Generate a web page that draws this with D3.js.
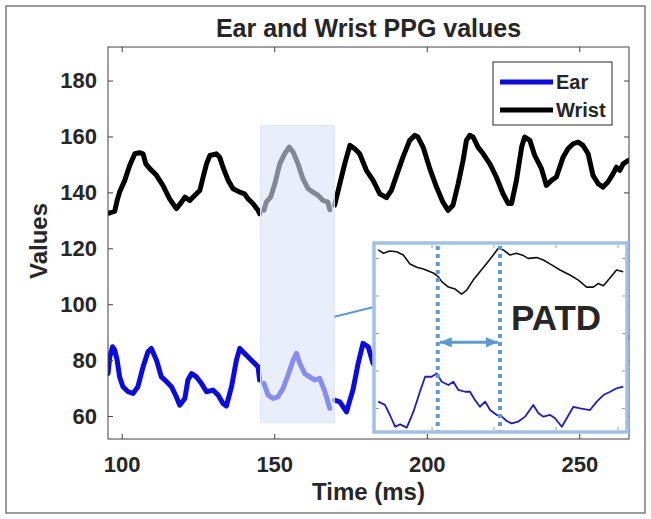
<!DOCTYPE html>
<html>
<head>
<meta charset="utf-8">
<script src="https://cdn.jsdelivr.net/npm/d3@7"></script>
<style>
body { margin: 0; background: #fff; }
text { font-family: "Liberation Sans", Arial, sans-serif; fill: #262626; }
</style>
</head>
<body>
<div class="chart"></div>
<script>
// main signals (time in ms)
const wristTime = [95.8,97.7,98.5,99.3,101,102.6,104.3,105.9,107,107.9,109.2,111.4,113.5,115.7,117.9,119.6,120.7,122.3,123.9,125.6,126.7,127.8,128.9,131,132.1,133.2,134.9,136.5,138.7,140.3,141.4,143,144.7,145.2,
  146.6,147.4,148.8,150.2,151.8,153.4,154.9,156.2,157.8,159.4,161.1,162.7,164.4,166,167.6,168.2,
  169.8,171.5,173.1,174.8,176.4,178,180.2,182.4,184.6,186.8,188.4,190.1,192.2,194.4,196.1,197.1,198.8,201,203.2,205.3,207,208.6,210.3,211.9,213,214.1,215.2,216.8,218.5,220.7,222.8,225,226.7,227.8,229.4,231.1,232.1,233.8,235.4,237.6,239.2,240.9,242.5,244.7,246.3,248,249.6,251.2,252.9,254.5,256.2,257.8,259.4,261.1,262.2,263.3,264.4,266];
const wristValues = [132.6,133.3,137.1,140.1,144.3,149.6,153.8,154.2,153.8,150.2,148.5,146.1,142.5,137.7,134.2,136.5,138.3,137.1,138.9,140.7,145.5,150.2,153.2,153.8,152.6,149,144.3,141.3,140.1,139.5,137.7,136,133.6,132.4,
  133.6,136.5,138.3,143.1,150.2,153.8,156.2,154.4,150.2,144.9,141.3,140.1,138.9,137.1,136.5,133.8,
  135.4,143.1,150.2,156.8,155.6,153.8,147.9,144.3,139.5,138.1,140.7,146.1,152.6,158.6,160.4,159.8,156.2,148.5,141.9,136.5,133.6,135.4,143.1,151.4,158.6,160.4,159.8,156.2,153.8,150.2,145.5,139.5,136,136,144.3,156.2,159.8,158.6,153.2,148.5,142.5,144.3,145.5,152.6,155.6,157.4,158,156.8,153.8,146.1,143.1,141.9,143.7,146.7,149,147.9,150.2,151.4];

const earTime = [95.5,96.1,97,97.7,98.5,99.3,100.4,102.1,103.7,105.3,107,108.6,109.7,111.4,113,114.7,116.3,117.9,119,120.7,121.7,122.9,124.5,126.1,127.8,129.9,131.6,133.2,134.3,136,137.6,138.7,140.3,142.5,144.7,145.2,
  146.6,148,149.6,151.2,152.9,154.5,156.2,157.3,158.4,160,161.6,163.3,164.9,166.6,168.2,
  169.8,171.5,173.7,174.8,175.8,177.5,179.1,180.8,182.4,266];
const earValues = [75.2,81.2,84.8,83.6,80,74,70.5,68.7,68.1,70.5,77.6,83,84.2,80,74,72.3,70.5,66.9,63.9,66.3,72.9,75.2,74,71.7,68.7,69.3,67.5,64.5,63.6,70.5,80,84.2,82.4,80,77.6,72.9,
  71.7,67.5,66.3,66.9,69.9,74.6,80,82.4,78.8,75.2,74,72.9,73.5,68.7,62.8,
  65.7,65.1,61.5,65.7,69.3,78.8,86,84.8,78.8,88];

const seriesNames = ["Ear", "Wrist"];
const xTicks = [100, 150, 200, 250];
const yTicks = [60, 80, 100, 120, 140, 160, 180];

// highlighted window
const hlStart = 145.5, hlEnd = 169.7, hlLow = 57.6, hlHigh = 163.9;

// zoomed inset (normalised units 0-100)
const insetWristT = [0.5,2.6,5.2,7.9,10.6,13.3,16,18.7,22.7,24.7,26.1,28.8,31.5,34.1,36.2,38.8,41.5,44.2,46.9,48.9,50.9,53.6,56.3,59,61,64.4,67.1,70.4,73.8,77.8,81.2,84.5,87.2,89.2,91.3,94,96.6,99.3];
const insetWristV = [98.4,96.6,97.8,97.4,95.6,90.7,88.9,88,85.8,83.8,81.1,78.1,77,74.2,76.5,81.9,86.5,91,95.6,99.3,98.4,95.6,96.6,95.3,93.8,94.2,92.9,90.2,87.4,84.7,81.9,78.1,78.1,80,78.8,83.2,87.4,86.5];
const insetEarT = [0.5,3.2,5.2,7.3,9.3,12,14.7,17.3,19.4,22,24.1,26.1,28.8,30.8,32.8,35.5,37.5,39.5,41.5,43.6,45.6,48.3,50.3,52.3,54.3,57,59.7,63,65.1,67.1,69.8,71.8,74.5,76.5,79.2,81.9,85.9,88.6,91.3,94,96.6,99.3];
const insetEarV = [15.5,13.7,8.2,1.8,3.1,1.3,10,20.9,29.1,29.1,30.9,26.4,24.6,26.4,21.9,20.9,20.9,16.4,12.7,15.5,10.9,8.2,7.3,4.9,3.6,4.6,7.3,13.7,9.1,7.3,8.2,6.4,1.8,6.4,12.7,11.8,10.9,15.5,19.1,20.9,22.8,23.7];
const insetXTicks = [22, 47, 72, 97];
const insetYTicks = [12, 32.5, 53, 73.5, 94];
const patdStart = 24.5, patdEnd = 49.6, patdLevel = 47.9;

const W = 651, H = 519;
const margin = ({top: 47, right: 22, bottom: 80, left: 108});
const width = W - margin.left - margin.right;
const height = H - margin.top - margin.bottom;

const root = d3.select('.chart').append('svg')
    .attr("width", W)
    .attr("height", H);

// figure frame
root.append("rect")
    .attr("x", 6).attr("y", 6)
    .attr("width", 639).attr("height", 507)
    .attr("fill", "none")
    .attr("stroke", "#7a7a7a")
    .attr("stroke-width", 1.5);

root.append("text")
    .attr("x", margin.left + width / 2)
    .attr("y", 37)
    .attr("text-anchor", "middle")
    .attr("font-size", "25px")
    .attr("font-weight", "bold")
    .text("Ear and Wrist PPG values");

const svg = root.append("g")
    .attr("transform", "translate(" + margin.left + "," + margin.top + ")");

const xScale = d3.scaleLinear().domain([95.5, 266.3]).range([0, width]);
const yScale = d3.scaleLinear().domain([51.8, 192]).range([height, 0]);

svg.append("clipPath").attr("id", "plot-clip")
  .append("rect").attr("width", width).attr("height", height);

const wrist = wristTime.map((t, i) => ({t: t, v: wristValues[i]}));
const ear = earTime.map((t, i) => ({t: t, v: earValues[i]}));

const line = d3.line()
    .x(d => xScale(d.t))
    .y(d => yScale(d.v));

function segments(data) {
  return [
    data.filter(d => d.t < hlStart),
    data.filter(d => d.t >= hlStart && d.t <= hlEnd),
    data.filter(d => d.t > hlEnd)
  ];
}

const plot = svg.append("g").attr("clip-path", "url(#plot-clip)");

[[wrist, "#000000"], [ear, "#0a0ae6"]].forEach(([data, color]) => {
  plot.selectAll(null)
    .data(segments(data))
    .enter()
    .append("path")
    .attr("fill", "none")
    .attr("stroke", color)
    .attr("stroke-width", 5)
    .attr("stroke-linejoin", "round")
    .attr("stroke-linecap", "round")
    .attr("d", line);
});

// translucent highlight over the selected window
svg.append("rect")
    .attr("x", xScale(hlStart))
    .attr("y", yScale(hlHigh))
    .attr("width", xScale(hlEnd) - xScale(hlStart))
    .attr("height", yScale(hlLow) - yScale(hlHigh))
    .attr("fill", "rgb(217,227,247)")
    .attr("fill-opacity", 0.6)
    .attr("stroke", "#dfe6f6")
    .attr("stroke-width", 1);

// axes, MATLAB style box with inward ticks
const axisColor = "#404040";
function styleAxis(g) {
  g.select(".domain").remove();
  g.selectAll(".tick line").attr("stroke", axisColor);
  g.selectAll(".tick text")
    .attr("font-size", "22px")
    .attr("font-weight", "bold")
    .attr("fill", "#262626")
    .attr("font-family", "Liberation Sans, Arial, sans-serif");
}

svg.append("g")
    .attr("transform", `translate(0,${height})`)
    .call(d3.axisBottom(xScale).tickValues(xTicks).tickSize(-5).tickPadding(17))
    .call(styleAxis);
svg.append("g")
    .call(d3.axisTop(xScale).tickValues(xTicks).tickSize(-5).tickFormat(""))
    .call(styleAxis);
svg.append("g")
    .call(d3.axisLeft(yScale).tickValues(yTicks).tickSize(-5).tickPadding(11))
    .call(styleAxis);
svg.append("g")
    .attr("transform", `translate(${width},0)`)
    .call(d3.axisRight(yScale).tickValues(yTicks).tickSize(-5).tickFormat(""))
    .call(styleAxis);

svg.append("rect")
    .attr("width", width).attr("height", height)
    .attr("fill", "none")
    .attr("stroke", axisColor)
    .attr("stroke-width", 1);

root.append("text")
    .attr("x", margin.left + width / 2)
    .attr("y", 500)
    .attr("text-anchor", "middle")
    .attr("font-size", "24px")
    .attr("font-weight", "bold")
    .text("Time (ms)");

root.append("text")
    .attr("transform", "translate(47," + (margin.top + height / 2 - 2) + ") rotate(-90)")
    .attr("text-anchor", "middle")
    .attr("font-size", "24px")
    .attr("font-weight", "bold")
    .text("Values");

// inset: zoomed view of ear / wrist with PATD
const inset = ({x: 374, y: 243, w: 253, h: 189});
const ix = d3.scaleLinear().domain([0, 100]).range([377, 625]);
const iy = d3.scaleLinear().domain([0, 100]).range([430, 247]);
const accent = "#5b9bd5";

// connector from highlight to inset
root.append("line")
    .attr("x1", margin.left + xScale(hlEnd))
    .attr("y1", margin.top + yScale(95.5))
    .attr("x2", inset.x)
    .attr("y2", 307)
    .attr("stroke", accent)
    .attr("stroke-width", 2);

const ig = root.append("g");
ig.append("rect")
    .attr("x", inset.x).attr("y", inset.y)
    .attr("width", inset.w).attr("height", inset.h)
    .attr("fill", "#ffffff");

function styleInsetAxis(g) {
  g.select(".domain").remove();
  g.selectAll(".tick line").attr("stroke", "#9a9a9a");
}
ig.append("g").attr("transform", `translate(0,${inset.y + inset.h - 2})`)
    .call(d3.axisBottom(ix).tickValues(insetXTicks).tickSize(-3).tickFormat("")).call(styleInsetAxis);
ig.append("g").attr("transform", `translate(0,${inset.y + 2})`)
    .call(d3.axisTop(ix).tickValues(insetXTicks).tickSize(-3).tickFormat("")).call(styleInsetAxis);
ig.append("g").attr("transform", `translate(${inset.x + 2},0)`)
    .call(d3.axisLeft(iy).tickValues(insetYTicks).tickSize(-3).tickFormat("")).call(styleInsetAxis);
ig.append("g").attr("transform", `translate(${inset.x + inset.w - 2},0)`)
    .call(d3.axisRight(iy).tickValues(insetYTicks).tickSize(-3).tickFormat("")).call(styleInsetAxis);

const iline = d3.line()
    .x(d => ix(d.t))
    .y(d => iy(d.v));

ig.append("path")
    .datum(insetWristT.map((t, i) => ({t: t, v: insetWristV[i]})))
    .attr("fill", "none")
    .attr("stroke", "#111")
    .attr("stroke-width", 1.6)
    .attr("stroke-linejoin", "round")
    .attr("d", iline);

ig.append("path")
    .datum(insetEarT.map((t, i) => ({t: t, v: insetEarV[i]})))
    .attr("fill", "none")
    .attr("stroke", "#1c1cc8")
    .attr("stroke-width", 1.8)
    .attr("stroke-linejoin", "round")
    .attr("d", iline);

ig.selectAll(".patd-mark")
    .data([patdStart, patdEnd])
    .enter()
    .append("line")
    .attr("class", "patd-mark")
    .attr("x1", d => ix(d)).attr("x2", d => ix(d))
    .attr("y1", inset.y + 3).attr("y2", inset.y + inset.h - 1)
    .attr("stroke", accent)
    .attr("stroke-width", 4)
    .attr("stroke-dasharray", "4,4");

const defs = root.append("defs");
defs.append("marker")
    .attr("id", "arrow")
    .attr("viewBox", "0 0 12 10")
    .attr("refX", 12).attr("refY", 5)
    .attr("markerWidth", 12).attr("markerHeight", 10)
    .attr("markerUnits", "userSpaceOnUse")
    .attr("orient", "auto-start-reverse")
  .append("path")
    .attr("d", "M0,0L12,5L0,10z")
    .attr("fill", accent);

ig.append("line")
    .attr("x1", ix(patdStart) + 2).attr("x2", ix(patdEnd) - 2)
    .attr("y1", iy(patdLevel)).attr("y2", iy(patdLevel))
    .attr("stroke", accent)
    .attr("stroke-width", 3)
    .attr("marker-start", "url(#arrow)")
    .attr("marker-end", "url(#arrow)");

ig.append("text")
    .attr("x", ix(72.2))
    .attr("y", iy(54.6))
    .attr("text-anchor", "middle")
    .attr("font-family", "Open Sans, sans-serif")
    .attr("font-weight", 600)
    .attr("font-size", "35px")
    .attr("fill", "#000")
    .text("PATD");

ig.append("rect")
    .attr("x", inset.x).attr("y", inset.y)
    .attr("width", inset.w).attr("height", inset.h)
    .attr("fill", "none")
    .attr("stroke", "#a2c0e4")
    .attr("stroke-width", 3.5);

// legend
const legend = root.append("g").attr("transform", "translate(493,62)");
legend.append("rect")
    .attr("width", 119).attr("height", 63)
    .attr("fill", "#fff")
    .attr("stroke", "#262626")
    .attr("stroke-width", 1);

const legendItems = legend.selectAll(".item")
    .data(seriesNames)
    .enter()
    .append("g")
    .attr("class", "item")
    .attr("transform", (d, i) => `translate(0,${20 + i * 28})`);

legendItems.append("line")
    .attr("x1", 7).attr("x2", 60)
    .attr("stroke", (d, i) => i === 0 ? "#0a0ae6" : "#000")
    .attr("stroke-width", 5);

legendItems.append("text")
    .attr("x", 63)
    .attr("dy", "0.36em")
    .attr("font-size", "20px")
    .attr("font-weight", "bold")
    .text(d => d);
</script>
</body>
</html>
